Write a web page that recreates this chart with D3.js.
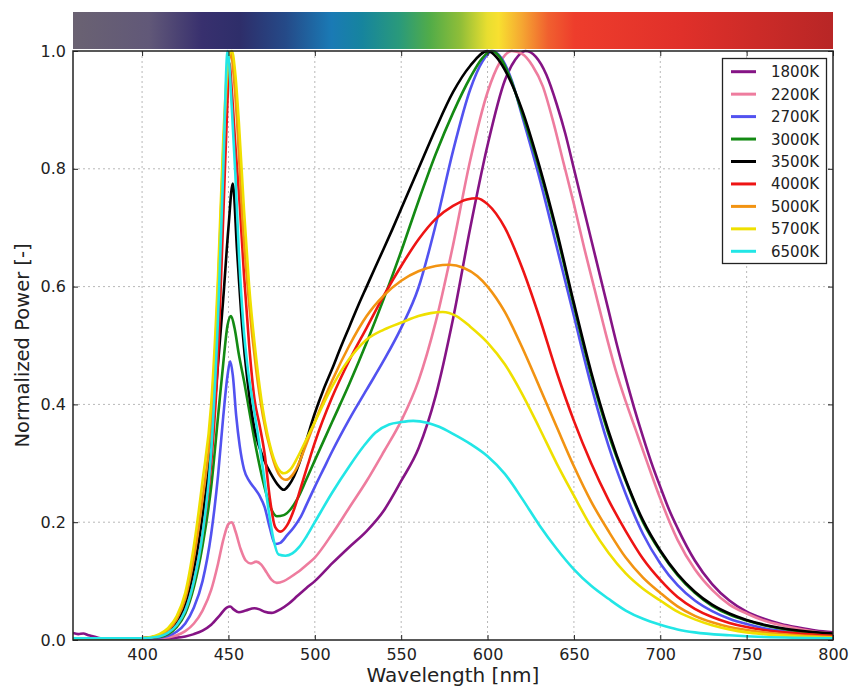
<!DOCTYPE html>
<html>
<head>
<meta charset="utf-8">
<script src="https://cdn.jsdelivr.net/npm/d3@7"></script>
<style>
  body { margin: 0; background: #fff; }
  svg { display: block; font-family: "DejaVu Sans", sans-serif; }
</style>
</head>
<body>
<svg id="chart" width="853" height="686"></svg>
<script>
// Normalized LED emission spectra by correlated colour temperature
const labels = ["1800K", "2200K", "2700K", "3000K", "3500K", "4000K", "5000K", "5700K", "6500K"];
const lineColors = ["#851485", "#ee7c9e", "#5252f0", "#138a13", "#000000", "#ee1414", "#f29312", "#efe000", "#22e6e6"];

const xTicks = [400, 450, 500, 550, 600, 650, 700, 750, 800];
const yTicks = [0.0, 0.2, 0.4, 0.6, 0.8, 1.0];

// visible-spectrum colour band (fraction along the wavelength axis, colour)
const bandOffsets = [0, 0.1, 0.17, 0.22, 0.28, 0.34, 0.38, 0.43, 0.47, 0.51, 0.545, 0.56, 0.59, 0.625, 0.66, 0.8, 1.0];
const bandColors = ["#6a6272", "#615878", "#38306e", "#2e2e6a", "#254a88", "#1a7ab5", "#16849e", "#2a9a7a", "#52ac48", "#90be38", "#e8de30", "#f8e030", "#f5a832", "#f0602f", "#ee3d2c", "#e0302a", "#b82626"];

// [wavelength nm, normalized power]
const s1800K = [[360,0.012],[363,0.010],[366,0.011],[369,0.008],[372,0.006],[376,0.003],[380,0.002],[400,0.002],[420,0.004],[425,0.006],[430,0.010],[435,0.016],[440,0.026],[445,0.042],[449,0.055],[451,0.057],[453,0.052],[456,0.047],[460,0.050],[465,0.054],[468,0.052],[471,0.048],[475,0.046],[480,0.052],[485,0.062],[490,0.075],[495,0.088],[500,0.100],[510,0.130],[520,0.158],[530,0.185],[540,0.220],[550,0.270],[560,0.325],[570,0.415],[580,0.545],[590,0.700],[600,0.840],[610,0.950],[616,0.985],[622,1.000],[628,0.99],[634,0.96],[640,0.91],[645,0.86],[650,0.80],[655,0.74],[660,0.68],[665,0.62],[670,0.56],[675,0.50],[680,0.445],[685,0.393],[690,0.345],[695,0.30],[700,0.26],[705,0.222],[710,0.19],[720,0.135],[730,0.095],[740,0.067],[750,0.048],[760,0.036],[770,0.027],[780,0.021],[790,0.016],[800,0.013]];
const s2200K = [[360,0.003],[380,0.002],[400,0.002],[410,0.003],[420,0.008],[425,0.015],[430,0.028],[435,0.05],[440,0.085],[444,0.13],[447,0.17],[450,0.197],[452,0.200],[454,0.185],[457,0.155],[460,0.135],[463,0.13],[466,0.133],[469,0.128],[472,0.115],[475,0.102],[478,0.097],[482,0.1],[486,0.107],[490,0.115],[495,0.127],[500,0.14],[510,0.18],[520,0.225],[530,0.27],[540,0.32],[550,0.372],[560,0.44],[570,0.54],[580,0.67],[590,0.815],[600,0.93],[607,0.98],[614,1.0],[620,0.995],[626,0.975],[632,0.94],[638,0.88],[644,0.81],[650,0.74],[656,0.665],[662,0.595],[668,0.525],[674,0.46],[680,0.405],[686,0.355],[692,0.305],[700,0.24],[710,0.17],[720,0.12],[730,0.085],[740,0.06],[750,0.045],[760,0.033],[770,0.025],[780,0.019],[790,0.014],[800,0.011]];
const s2700K = [[360,0.003],[380,0.002],[400,0.002],[410,0.004],[415,0.007],[420,0.014],[425,0.028],[430,0.055],[435,0.10],[440,0.18],[444,0.28],[447,0.38],[449.5,0.45],[451,0.473],[452.5,0.45],[454.5,0.38],[456.5,0.33],[459,0.29],[462,0.27],[465,0.258],[468,0.245],[471,0.225],[474,0.19],[477,0.163],[480,0.165],[484,0.178],[488,0.192],[492,0.21],[496,0.235],[500,0.26],[505,0.29],[510,0.32],[520,0.375],[530,0.425],[540,0.475],[550,0.53],[560,0.598],[570,0.705],[580,0.83],[590,0.935],[597,0.982],[603,1.0],[608,0.988],[614,0.95],[620,0.89],[630,0.785],[640,0.668],[650,0.55],[660,0.432],[670,0.33],[680,0.248],[690,0.18],[700,0.13],[710,0.093],[720,0.067],[730,0.049],[740,0.036],[750,0.027],[760,0.02],[780,0.012],[800,0.008]];
const s3000K = [[360,0.003],[380,0.002],[400,0.003],[410,0.005],[415,0.01],[420,0.022],[425,0.045],[430,0.09],[435,0.16],[440,0.26],[444,0.38],[447,0.47],[449.5,0.535],[451.5,0.55],[453.5,0.53],[456,0.485],[459,0.44],[462,0.39],[466,0.325],[470,0.27],[474,0.228],[478,0.21],[482,0.212],[486,0.222],[490,0.24],[495,0.272],[500,0.305],[510,0.37],[520,0.435],[530,0.505],[540,0.58],[550,0.66],[560,0.745],[570,0.825],[580,0.895],[590,0.955],[597,0.988],[602,1.0],[607,0.99],[613,0.955],[620,0.895],[630,0.8],[640,0.69],[650,0.567],[660,0.45],[670,0.35],[680,0.27],[690,0.2],[700,0.15],[710,0.11],[720,0.08],[730,0.058],[740,0.043],[750,0.033],[760,0.025],[780,0.015],[800,0.01]];
const s3500K = [[360,0.003],[380,0.003],[400,0.003],[410,0.007],[415,0.015],[420,0.03],[425,0.06],[430,0.12],[435,0.21],[440,0.33],[444,0.47],[447,0.58],[450,0.7],[452.5,0.775],[455,0.66],[458,0.53],[461,0.44],[465,0.36],[470,0.31],[475,0.28],[479,0.262],[482,0.255],[485,0.263],[488,0.278],[491,0.3],[495,0.338],[500,0.385],[505,0.425],[510,0.46],[515,0.497],[520,0.532],[525,0.567],[530,0.6],[535,0.633],[540,0.665],[545,0.698],[550,0.732],[555,0.766],[560,0.8],[570,0.868],[580,0.93],[590,0.975],[600,1.0],[605,0.99],[610,0.968],[620,0.9],[630,0.805],[640,0.695],[650,0.572],[660,0.455],[670,0.355],[680,0.272],[690,0.203],[700,0.152],[710,0.112],[720,0.082],[730,0.06],[740,0.045],[750,0.034],[760,0.026],[780,0.016],[800,0.011]];
const s4000K = [[360,0.003],[380,0.003],[400,0.003],[410,0.006],[415,0.012],[420,0.025],[425,0.05],[430,0.1],[435,0.18],[440,0.3],[444,0.48],[447,0.72],[449.5,0.92],[450.5,0.98],[452,0.93],[454,0.84],[456.5,0.74],[459,0.62],[462,0.5],[465,0.41],[468,0.365],[471,0.315],[474,0.24],[477,0.192],[480,0.184],[484,0.195],[488,0.222],[492,0.26],[496,0.298],[500,0.335],[510,0.412],[520,0.475],[530,0.53],[540,0.585],[550,0.635],[560,0.68],[570,0.715],[580,0.737],[588,0.748],[594,0.75],[600,0.74],[610,0.7],[620,0.632],[630,0.548],[640,0.455],[650,0.372],[660,0.3],[670,0.238],[680,0.185],[690,0.138],[700,0.102],[710,0.073],[720,0.053],[730,0.039],[740,0.029],[750,0.022],[760,0.017],[780,0.011],[800,0.007]];
const s5000K = [[360,0.003],[380,0.003],[400,0.003],[410,0.008],[415,0.017],[420,0.035],[425,0.07],[430,0.14],[435,0.24],[440,0.37],[444,0.6],[447,0.83],[450,0.98],[451.5,0.995],[453,0.96],[455,0.88],[458,0.72],[462,0.57],[466,0.46],[470,0.38],[475,0.315],[479,0.282],[483,0.272],[487,0.28],[490,0.295],[495,0.332],[500,0.37],[510,0.44],[520,0.5],[530,0.55],[540,0.585],[550,0.61],[560,0.626],[570,0.635],[578,0.637],[586,0.632],[594,0.618],[600,0.6],[610,0.557],[620,0.497],[630,0.43],[640,0.362],[650,0.295],[660,0.235],[670,0.185],[680,0.14],[690,0.106],[700,0.08],[710,0.057],[720,0.041],[730,0.03],[740,0.022],[750,0.017],[760,0.013],[780,0.008],[800,0.005]];
const s5700K = [[360,0.003],[380,0.003],[400,0.003],[405,0.005],[410,0.01],[415,0.02],[420,0.04],[425,0.08],[430,0.16],[435,0.27],[440,0.4],[444,0.62],[447,0.85],[450,0.99],[452,1.0],[454,0.96],[456,0.88],[459,0.73],[462,0.6],[466,0.48],[470,0.39],[475,0.32],[479,0.29],[482,0.283],[486,0.29],[490,0.31],[495,0.34],[500,0.37],[510,0.43],[517,0.465],[524,0.492],[530,0.51],[540,0.527],[551,0.54],[560,0.55],[567,0.555],[574,0.557],[582,0.55],[590,0.532],[600,0.505],[610,0.468],[620,0.418],[630,0.36],[640,0.3],[650,0.245],[660,0.192],[670,0.148],[680,0.113],[690,0.087],[700,0.067],[710,0.048],[720,0.035],[730,0.025],[740,0.018],[750,0.013],[760,0.01],[780,0.006],[800,0.004]];
const s6500K = [[360,0.003],[380,0.003],[400,0.003],[410,0.006],[415,0.012],[420,0.025],[425,0.05],[430,0.1],[435,0.18],[440,0.32],[444,0.55],[447,0.8],[449.5,1.0],[452,0.9],[454,0.79],[456,0.66],[458.5,0.54],[461,0.465],[464,0.405],[467,0.35],[470,0.29],[473,0.225],[476,0.172],[479,0.145],[483,0.143],[487,0.147],[491,0.158],[495,0.175],[500,0.2],[510,0.25],[520,0.295],[528,0.328],[535,0.352],[543,0.366],[550,0.37],[557,0.372],[565,0.369],[572,0.362],[580,0.35],[590,0.333],[600,0.312],[610,0.282],[620,0.24],[630,0.195],[640,0.155],[650,0.12],[660,0.092],[670,0.07],[680,0.05],[690,0.036],[700,0.026],[710,0.018],[720,0.013],[740,0.008],[760,0.005],[800,0.003]];

const spectra = [s1800K, s2200K, s2700K, s3000K, s3500K, s4000K, s5000K, s5700K, s6500K];

const svg = d3.select("#chart");
const plot = { left: 73, right: 833, top: 51, bottom: 640 };

const x = d3.scaleLinear().domain([360, 800]).range([plot.left, plot.right]);
const y = d3.scaleLinear().domain([0, 1]).range([plot.bottom, plot.top]);

// colour band above the axes
const defs = svg.append("defs");
const grad = defs.append("linearGradient").attr("id", "band").attr("x1", "0%").attr("x2", "100%");
bandOffsets.forEach((o, i) => grad.append("stop").attr("offset", o).attr("stop-color", bandColors[i]));
svg.append("rect")
  .attr("x", plot.left).attr("y", 12)
  .attr("width", plot.right - plot.left).attr("height", 37)
  .attr("fill", "url(#band)");

defs.append("clipPath").attr("id", "clip").append("rect")
  .attr("x", plot.left).attr("y", plot.top - 2)
  .attr("width", plot.right - plot.left).attr("height", plot.bottom - plot.top + 2);

// grid
const grid = svg.append("g").attr("stroke", "#b8b8b8").attr("stroke-width", 1).attr("stroke-dasharray", "2,3");
grid.selectAll(".gx").data(xTicks.filter(t => t > 360 && t < 800)).join("line")
  .attr("x1", d => x(d)).attr("x2", d => x(d)).attr("y1", plot.top).attr("y2", plot.bottom);
grid.selectAll(".gy").data(yTicks.filter(t => t > 0 && t < 1)).join("line")
  .attr("y1", d => y(d)).attr("y2", d => y(d)).attr("x1", plot.left).attr("x2", plot.right);

// spectra
const line = d3.line().x(d => x(d[0])).y(d => y(d[1])).curve(d3.curveMonotoneX);
svg.append("g").attr("clip-path", "url(#clip)")
  .selectAll("path").data(spectra).join("path")
  .attr("d", line)
  .attr("fill", "none")
  .attr("stroke", (d, i) => lineColors[i])
  .attr("stroke-width", 2.6)
  .attr("stroke-linejoin", "round");

// axes with inward ticks on all four sides
function styleAxis(g) {
  g.select(".domain").remove();
  g.selectAll(".tick line").attr("stroke", "#222").attr("stroke-width", 1);
  g.selectAll(".tick text").attr("fill", "#222").attr("font-size", "16px").attr("font-family", "DejaVu Sans, sans-serif");
}
svg.append("g").attr("transform", `translate(0,${plot.bottom})`)
  .call(d3.axisBottom(x).tickValues(xTicks).tickFormat(d3.format("d")).tickSize(-5).tickPadding(9))
  .call(styleAxis);
svg.append("g").attr("transform", `translate(0,${plot.top})`)
  .call(d3.axisTop(x).tickValues(xTicks).tickSize(-5).tickFormat(""))
  .call(styleAxis);
svg.append("g").attr("transform", `translate(${plot.left},0)`)
  .call(d3.axisLeft(y).tickValues(yTicks).tickFormat(d3.format(".1f")).tickSize(-5).tickPadding(7))
  .call(styleAxis);
svg.append("g").attr("transform", `translate(${plot.right},0)`)
  .call(d3.axisRight(y).tickValues(yTicks).tickSize(-5).tickFormat(""))
  .call(styleAxis);

// frame
svg.append("rect")
  .attr("x", plot.left).attr("y", plot.top)
  .attr("width", plot.right - plot.left).attr("height", plot.bottom - plot.top)
  .attr("fill", "none").attr("stroke", "#222").attr("stroke-width", 1.5);

// axis titles
svg.append("text")
  .attr("x", (plot.left + plot.right) / 2).attr("y", 682)
  .attr("text-anchor", "middle").attr("font-size", "20px").attr("fill", "#222")
  .text("Wavelength [nm]");
svg.append("text")
  .attr("transform", `translate(29,${(plot.top + plot.bottom) / 2}) rotate(-90)`)
  .attr("text-anchor", "middle").attr("font-size", "19.5px").attr("fill", "#222")
  .text("Normalized Power [-]");

// legend
const legend = svg.append("g");
legend.append("rect")
  .attr("x", 722.5).attr("y", 58.5).attr("width", 104).attr("height", 205)
  .attr("fill", "#fff").attr("stroke", "#222").attr("stroke-width", 1.3);
const item = legend.selectAll(".item").data(labels).join("g")
  .attr("transform", (d, i) => `translate(0,${71.7 + i * 22.45})`);
item.append("line")
  .attr("x1", 731).attr("x2", 756).attr("y1", 0).attr("y2", 0)
  .attr("stroke", (d, i) => lineColors[i]).attr("stroke-width", 3);
item.append("text")
  .attr("x", 771).attr("y", 5.5)
  .attr("font-size", "15px").attr("fill", "#222")
  .text(d => d);
</script>
</body>
</html>
